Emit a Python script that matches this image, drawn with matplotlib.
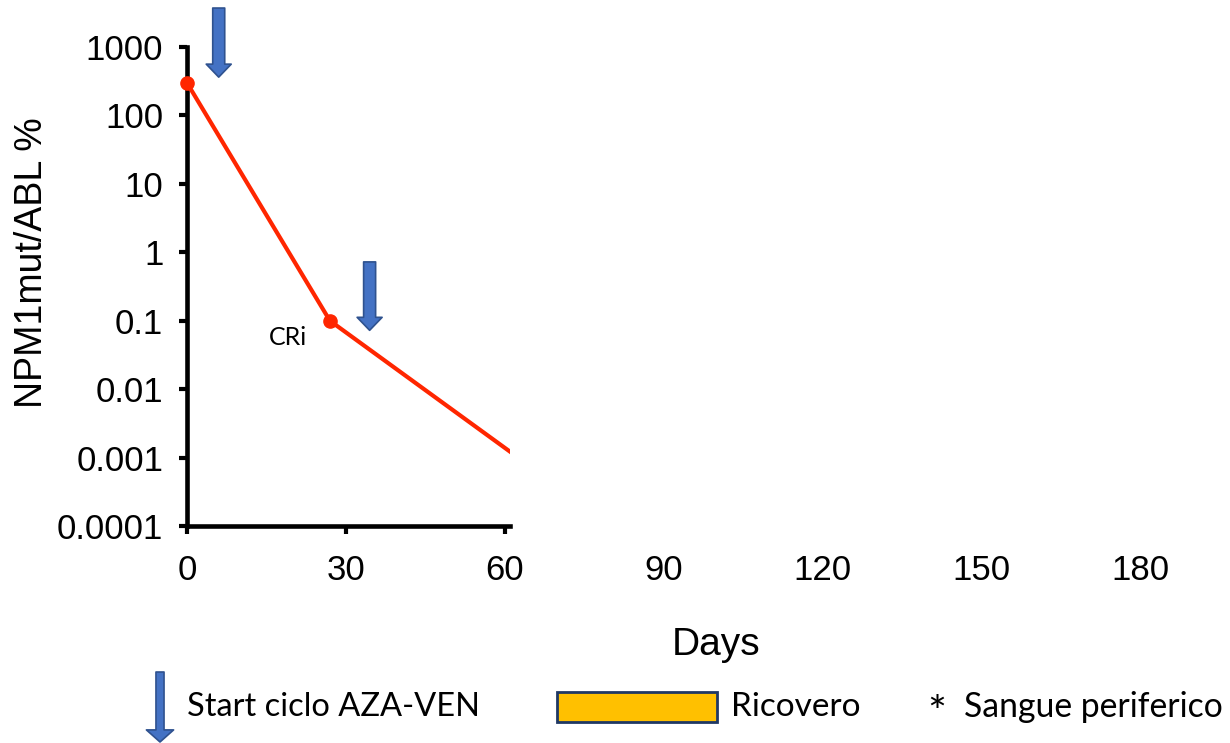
import matplotlib
matplotlib.use('Agg')
import matplotlib.pyplot as plt
from matplotlib.patches import Rectangle

# dati (giorni, NPM1mut/ABL %)
days = [0, 27, 75]
npm1 = [300, 0.1, 0.0002]
visible_until = 61          # la parte oltre questo giorno è coperta nell'originale
point_labels = ['', 'CRi', '']

# frecce: inizio cicli AZA-VEN (giorno, cima, punta)
cycle_days = [6, 34.5]
arrow_top = [10**3.57, 10**-0.14]
arrow_tip = [10**2.56, 10**-1.14]

x_ticks = [0, 30, 60, 90, 120, 150, 180]
y_ticks = [0.0001, 0.001, 0.01, 0.1, 1, 10, 100, 1000]
y_tick_labels = ['0.0001', '0.001', '0.01', '0.1', '1', '10', '100', '1000']

plt.rcParams['font.family'] = ['Liberation Sans', 'DejaVu Sans']
legend_font = ['Lato', 'DejaVu Sans']

fig = plt.figure(figsize=(12.3, 7.43), dpi=100)
ax = fig.add_axes([0.152, 0.292, 0.7748, 0.6447])

line, = ax.plot(days, npm1, color='#FF2600', lw=3, marker='o', ms=9.5, zorder=3)
# taglia la linea come nell'originale (il marker al giorno 0 resta intero)
clip = Rectangle((-10, 1e-6), visible_until + 10, 1e10, transform=ax.transData)
line.set_clip_path(clip)

for d, v, lab in zip(days, npm1, point_labels):
    if lab:
        ax.text(d - 8, v * 10**-0.24, lab, family=legend_font, fontsize=18,
                ha='center', va='center')

for d, top, tip in zip(cycle_days, arrow_top, arrow_tip):
    ax.annotate('', xy=(d, tip), xytext=(d, top), annotation_clip=False,
                arrowprops=dict(arrowstyle='simple,head_length=0.52,head_width=1.0,tail_width=0.48',
                                mutation_scale=18, fc='#4472C4', ec='#2F528F', lw=1.2,
                                shrinkA=0, shrinkB=0))

ax.set_yscale('log')
ax.set_ylim(1e-4, 1e3)
ax.set_xlim(0, 180)
ax.set_yticks(y_ticks)
ax.set_yticklabels(y_tick_labels)
ax.minorticks_off()
ax.set_xticks(x_ticks)
ax.set_xticklabels([str(t) for t in x_ticks])
for t in ax.xaxis.get_major_ticks():
    if t.get_loc() > visible_until:
        t.tick1line.set_visible(False)

ax.tick_params(labelsize=25, length=6, width=3)
ax.tick_params(axis='y', pad=11)
ax.tick_params(axis='x', pad=14)
for s in ['top', 'right']:
    ax.spines[s].set_visible(False)
ax.spines['left'].set_linewidth(3.3)
ax.spines['bottom'].set_linewidth(3.3)
ax.spines['bottom'].set_bounds(0, visible_until)

ax.set_ylabel('NPM1mut/ABL %', fontsize=27, va='center')
ax.yaxis.set_label_coords(-0.163, 0.549)
ax.set_xlabel('Days', fontsize=28, va='top')
ax.xaxis.set_label_coords(0.555, -0.21)

# legenda in basso
ax.annotate('', xy=(160, 1), xytext=(160, 71), xycoords='figure pixels',
            textcoords='figure pixels', annotation_clip=False,
            arrowprops=dict(arrowstyle='simple,head_length=0.6,head_width=1.35,tail_width=0.4',
                            mutation_scale=14.5, fc='#4472C4', ec='#2F528F', lw=1.2,
                            shrinkA=0, shrinkB=0))
fig.text(187 / 1230, 36 / 743, 'Start ciclo AZA-VEN', family=legend_font, fontsize=23.5,
         va='center', ha='left')
fig.patches.append(Rectangle((557 / 1230, 21 / 743), 160 / 1230, 30 / 743,
                             transform=fig.transFigure, fc='#FFC000', ec='#1F3864', lw=2))
fig.text(731 / 1230, 36 / 743, 'Ricovero', family=legend_font, fontsize=24,
         va='center', ha='left')
fig.text(927 / 1230, 29 / 743, '*', family=legend_font, fontsize=32,
         va='center', ha='left')
fig.text(964 / 1230, 36 / 743, 'Sangue periferico', family=legend_font, fontsize=24.3,
         va='center', ha='left')

fig.savefig('out.png', dpi=100)
